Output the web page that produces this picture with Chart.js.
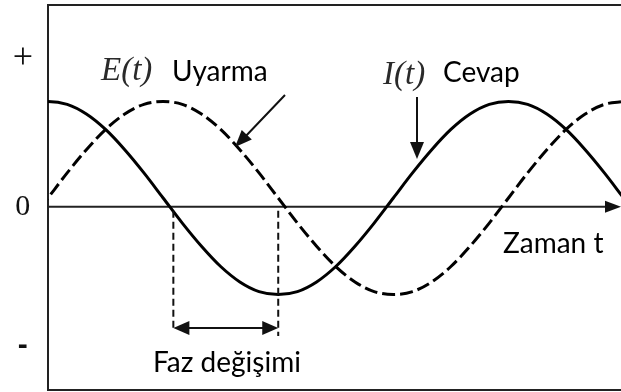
<!DOCTYPE html>
<html>
<head>
<meta charset="utf-8">
<script src="https://cdn.jsdelivr.net/npm/chart.js@4/dist/chart.umd.min.js"></script>
<style>
  html, body { margin: 0; padding: 0; background: #fff; }
  #wrap { width: 621px; height: 392px; }
</style>
</head>
<body>
<div id="wrap"><canvas id="c"></canvas></div>
<script>
// Phase angle (degrees) of each sample along the time axis
const phaseDeg = [-15, 0, 15, 30, 45, 60, 75, 90, 105, 120, 135, 150, 165, 180, 195, 210, 225,
                  240, 255, 270, 285, 300, 315, 330, 345, 360, 375, 390, 405, 420, 435, 450];
// E(t): excitation (dashed)
const excitation = [-0.17, 0.09, 0.35, 0.59, 0.80, 0.96, 1.06, 1.09, 1.06, 0.96, 0.80, 0.59, 0.35, 0.09, -0.17, -0.41, -0.62,
                    -0.78, -0.88, -0.91, -0.88, -0.78, -0.62, -0.41, -0.17, 0.09, 0.35, 0.59, 0.80, 0.96, 1.06, 1.09];
// I(t): response (solid)
const response = [1.06, 1.09, 1.06, 0.96, 0.80, 0.59, 0.35, 0.09, -0.17, -0.41, -0.62, -0.78, -0.88, -0.91, -0.88, -0.78, -0.62,
                  -0.41, -0.17, 0.09, 0.35, 0.59, 0.80, 0.96, 1.06, 1.09, 1.06, 0.96, 0.80, 0.59, 0.35, 0.09];
// Vertical axis marks
const tickValues = [1.53, 0, -1.44];
const tickLabels = ['+', '0', '-'];
// Phase-shift bracket: response zero crossing and response minimum (degrees)
const shiftFrom = 98;
const shiftTo = 180;

const toPoints = (ys) => phaseDeg.map((x, i) => ({ x, y: ys[i] }));

function arrowHead(ctx, x1, y1, x2, y2, len, half) {
  const a = Math.atan2(y2 - y1, x2 - x1);
  ctx.beginPath();
  ctx.moveTo(x2, y2);
  ctx.lineTo(x2 - len * Math.cos(a) + half * Math.sin(a), y2 - len * Math.sin(a) - half * Math.cos(a));
  ctx.lineTo(x2 - len * Math.cos(a) - half * Math.sin(a), y2 - len * Math.sin(a) + half * Math.cos(a));
  ctx.closePath();
  ctx.fill();
}

const decor = {
  id: 'decor',
  beforeDatasetsDraw(chart) {
    const { ctx, chartArea: a, scales: { y } } = chart;
    ctx.save();
    ctx.strokeStyle = '#222';
    ctx.fillStyle = '#111';
    // frame (open on the right)
    ctx.lineWidth = 2;
    ctx.beginPath();
    ctx.moveTo(chart.width, a.top + 1);
    ctx.lineTo(a.left, a.top + 1);
    ctx.lineTo(a.left, a.bottom - 1);
    ctx.lineTo(chart.width, a.bottom - 1);
    ctx.stroke();
    // time axis with arrow
    const y0 = y.getPixelForValue(0);
    ctx.beginPath();
    ctx.moveTo(a.left, y0);
    ctx.lineTo(a.right - 8, y0);
    ctx.stroke();
    arrowHead(ctx, a.left, y0, a.right, y0, 16, 6);
    ctx.restore();
  },
  afterDatasetsDraw(chart) {
    const { ctx, scales: { x, y } } = chart;
    const y0 = y.getPixelForValue(0);
    const xa = x.getPixelForValue(shiftFrom);
    const xb = x.getPixelForValue(shiftTo);
    const barY = 328;
    ctx.save();
    ctx.strokeStyle = '#111';
    ctx.fillStyle = '#111';
    // dashed drop lines
    ctx.lineWidth = 2;
    ctx.setLineDash([7, 4]);
    ctx.beginPath();
    ctx.moveTo(xa, y0 + 4); ctx.lineTo(xa, barY + 2);
    ctx.moveTo(xb, y0 + 4); ctx.lineTo(xb, barY + 8);
    ctx.stroke();
    ctx.setLineDash([]);
    // double-headed arrow
    ctx.beginPath();
    ctx.moveTo(xa + 10, barY); ctx.lineTo(xb - 10, barY);
    ctx.stroke();
    arrowHead(ctx, xb, barY, xa, barY, 16, 7);
    arrowHead(ctx, xa, barY, xb, barY, 16, 7);
    // pointer arrows
    ctx.beginPath();
    ctx.moveTo(285, 95); ctx.lineTo(243, 139);
    ctx.moveTo(417, 97); ctx.lineTo(417, 146);
    ctx.stroke();
    arrowHead(ctx, 285, 95, 235, 147, 17, 7);
    arrowHead(ctx, 417, 97, 417, 159, 17, 7);
    // labels
    ctx.textBaseline = 'middle';
    ctx.textAlign = 'left';
    ctx.font = 'italic 33px "Liberation Serif", serif';
    ctx.fillStyle = '#2a2a2a';
    ctx.fillText('E(t)', 101, 71);
    ctx.fillText('I(t)', 383, 75);
    ctx.fillStyle = '#000';
    ctx.font = '28px Lato, sans-serif';
    ctx.fillText('Uyarma', 172, 72);
    ctx.fillText('Cevap', 443, 73);
    ctx.fillText('Zaman t', 503, 244);
    ctx.fillText('Faz değişimi', 153, 363);
    ctx.restore();
  }
};

new Chart(document.getElementById('c'), {
  type: 'line',
  data: {
    datasets: [
      {
        label: 'E(t) Uyarma',
        data: toPoints(excitation),
        borderColor: '#000',
        borderWidth: 3,
        borderDash: [13, 5],
        pointRadius: 0,
        cubicInterpolationMode: 'monotone',
        fill: false
      },
      {
        label: 'I(t) Cevap',
        data: toPoints(response),
        borderColor: '#000',
        borderWidth: 3,
        pointRadius: 0,
        cubicInterpolationMode: 'monotone',
        fill: false
      }
    ]
  },
  options: {
    responsive: true,
    maintainAspectRatio: false,
    animation: false,
    layout: { padding: { top: 4, right: 0, bottom: 1, left: 0 } },
    plugins: { legend: { display: false }, tooltip: { enabled: false } },
    scales: {
      x: {
        type: 'linear',
        min: 0,
        max: 448,
        display: false
      },
      y: {
        min: -1.91,
        max: 2.10,
        grid: { display: false, drawTicks: false },
        border: { display: false },
        afterFit(scale) {
          scale.width = 48;
          scale.paddingTop = 0;
          scale.paddingBottom = 0;
        },
        afterBuildTicks(scale) {
          scale.ticks = tickValues.map(v => ({ value: v }));
        },
        ticks: {
          padding: 15,
          crossAlign: 'center',
          color: '#111',
          callback(value) {
            const i = tickValues.indexOf(value);
            return i >= 0 ? tickLabels[i] : '';
          },
          font(ctx) {
            const v = ctx.tick && ctx.tick.value;
            if (v === 0) return { family: '"Liberation Serif", serif', size: 30 };
            if (v > 0) return { family: '"Liberation Serif", serif', size: 36 };
            return { family: '"Liberation Sans", sans-serif', size: 30, weight: 'bold' };
          }
        }
      }
    }
  },
  plugins: [decor]
});
</script>
</body>
</html>
